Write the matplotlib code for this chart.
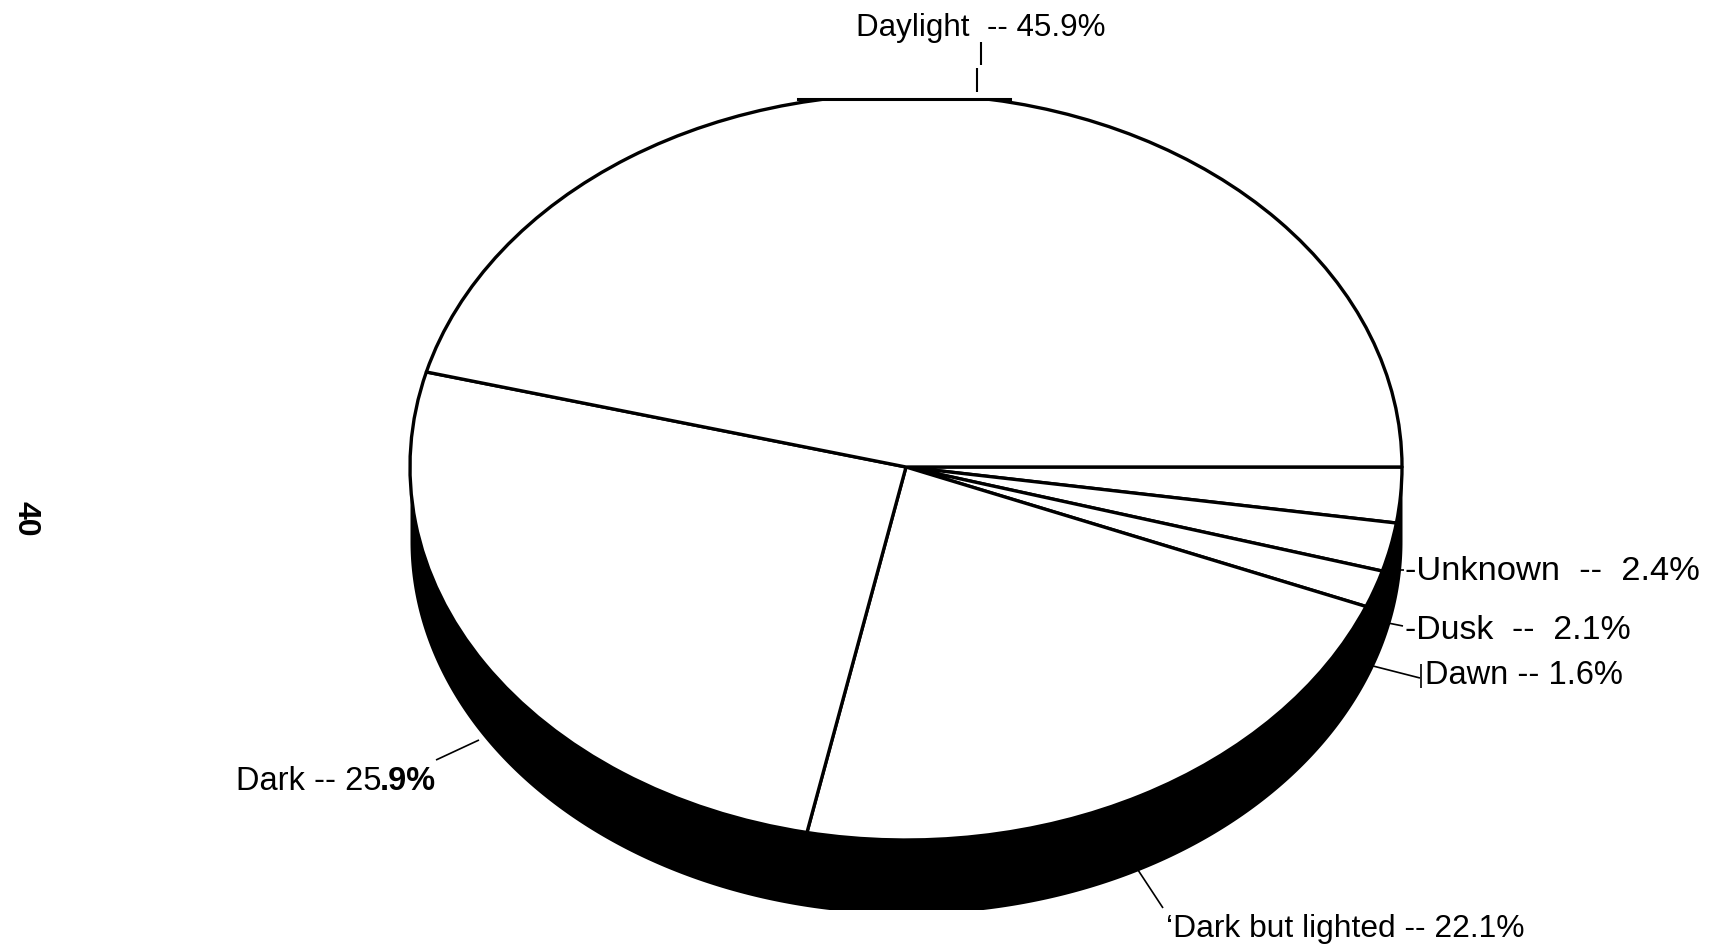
import numpy as np
import matplotlib
matplotlib.use('Agg')
import matplotlib.pyplot as plt

plt.rcParams['font.family'] = ['Liberation Sans', 'DejaVu Sans']

# Light condition shares, clockwise from the east edge of the pie
conditions = ['Unknown', 'Dusk', 'Dawn', 'Dark but lighted', 'Dark', 'Daylight']
shares = [2.4, 2.1, 1.6, 22.1, 25.9, 45.9]
page_number = '40'

W, H = 1712, 946
cx, cy, rx, ry = 906, 467, 496, 373
depth = 74

fig = plt.figure(figsize=(W / 100, H / 100), dpi=100, facecolor='white')

# pie axes spans the bounding box of the ellipse, aspect left free to tilt it
ax = fig.add_axes([(cx - rx) / W, 1 - (cy + ry) / H, 2 * rx / W, 2 * ry / H])
ax.pie(shares, startangle=0, counterclock=False, radius=1, colors=['white'] * len(shares),
       wedgeprops={'edgecolor': 'black', 'linewidth': 2.4, 'joinstyle': 'round'})
ax.set_aspect('auto')
ax.set_xlim(-1, 1)
ax.set_ylim(-1, 1)

# black wall of the disc
t = np.linspace(np.pi, 2 * np.pi, 400)
ax.fill_between(np.cos(t), np.sin(t), np.sin(t) - depth / ry, color='black', lw=0, clip_on=False, zorder=0)

# overlay in page pixels for labels and leaders
top = fig.add_axes([0, 0, 1, 1], zorder=5)
top.set_xlim(0, W)
top.set_ylim(H, 0)
top.axis('off')

# flattened top and bottom of the disc
top.fill_between([700, 1100], 0, 98.5, color='white', lw=0, zorder=1)
top.fill_between([700, 1100], 910, H, color='white', lw=0, zorder=1)
top.plot([798, 1010], [99, 99], color='black', lw=2.2, zorder=2)


def leader(xs, ys, lw=1.2):
    top.plot(xs, ys, color='black', lw=lw, zorder=3, solid_capstyle='butt')


leader([981.5, 981.5], [42, 65], 1.5)
leader([977, 977], [68, 92], 1.5)
leader([1400, 1404], [570, 570])
leader([1388, 1403], [623, 626])
leader([1373, 1420], [666, 678])
leader([1421.5, 1421.5], [664, 688])
leader([1138, 1163], [870, 908])
leader([479, 436], [740, 760])

text_kw = dict(color='black', va='baseline', ha='left', zorder=4)
top.text(856, 36, f'{conditions[5]}  -- {shares[5]}%', fontsize=22.6, **text_kw)
top.text(1405, 580, f'-{conditions[0]}  --  {shares[0]}%', fontsize=24.8, **text_kw)
top.text(1405, 639, f'-{conditions[1]}  --  {shares[1]}%', fontsize=24.4, **text_kw)
top.text(1425, 684, f'{conditions[2]} -- {shares[2]}%', fontsize=23.5, **text_kw)
top.text(1166, 937, f'\u2018{conditions[3]} -- {shares[3]}%', fontsize=22.9, **text_kw)
whole, frac = str(shares[4]).split('.')
top.text(236, 790, f'{conditions[4]} -- {whole}', fontsize=23.5, **text_kw)
top.text(436, 790, f'.{frac}%', fontsize=23.5, color='black', va='baseline', ha='right',
         fontweight='bold', zorder=4)
top.text(25, 519, page_number, rotation=270, ha='center', va='center', fontsize=23,
         fontweight='bold', color='black', zorder=4)

fig.savefig('out.png', dpi=100)
